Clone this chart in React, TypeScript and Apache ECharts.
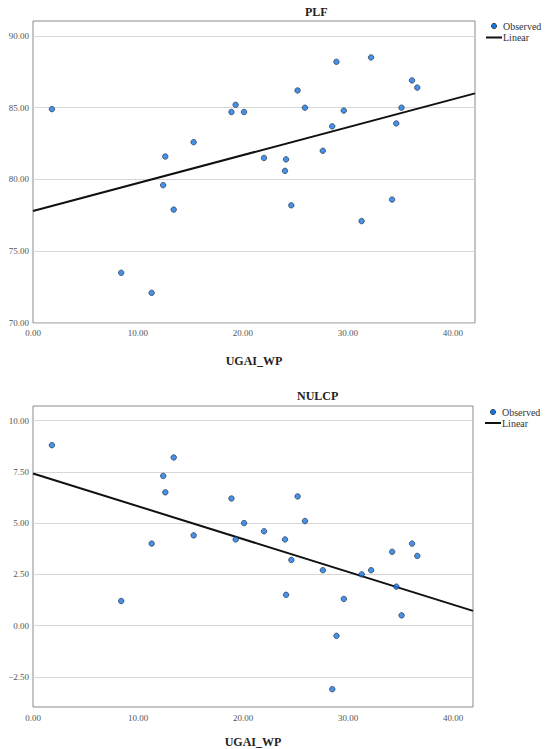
import React, { useEffect, useRef } from "react";
import * as echarts from "echarts";

// Predictor values (shared by both panels)
const ugaiWp = [1.8, 8.4, 11.3, 12.4, 12.6, 13.4, 15.3, 18.9, 19.3, 20.1, 22.0, 24.0, 24.1, 24.6, 25.2, 25.9, 27.6, 28.5, 28.9, 29.6, 31.3, 32.2, 34.2, 34.6, 35.1, 36.1, 36.6];
// Observed responses
const plf = [84.9, 73.5, 72.1, 79.6, 81.6, 77.9, 82.6, 84.7, 85.2, 84.7, 81.5, 80.6, 81.4, 78.2, 86.2, 85.0, 82.0, 83.7, 88.2, 84.8, 77.1, 88.5, 78.6, 83.9, 85.0, 86.9, 86.4];
const nulcp = [8.8, 1.2, 4.0, 7.3, 6.5, 8.2, 4.4, 6.2, 4.2, 5.0, 4.6, 4.2, 1.5, 3.2, 6.3, 5.1, 2.7, -3.1, -0.5, 1.3, 2.5, 2.7, 3.6, 1.9, 0.5, 4.0, 3.4];
// Linear fit end points [x, y]
const plfFitX = [0, 42.1];
const plfFitY = [77.8, 86.0];
const nulcpFitX = [0, 41.9];
const nulcpFitY = [7.42, 0.72];
// Tick labels
const xTicks = [0, 10, 20, 30, 40];
const plfTicks = [70, 75, 80, 85, 90];
const nulcpTicks = [-2.5, 0, 2.5, 5, 7.5, 10];
const titles = ["PLF", "NULCP"];
const xName = "UGAI_WP";
const legendNames = ["Observed", "Linear"];

const SERIF = "Liberation Serif";

const fmt = (v: number) => v.toFixed(2).replace("-", "\u2212");

function xAxis(gridIndex: number, max: number, nameGap: number, margin: number) {
  return {
    type: "value",
    gridIndex,
    min: 0,
    max,
    name: xName,
    nameLocation: "middle",
    nameGap,
    nameTextStyle: { fontFamily: SERIF, fontSize: 12, fontWeight: "bold", color: "#222" },
    axisLine: { show: false },
    axisTick: { show: false, customValues: xTicks },
    axisLabel: { customValues: xTicks, formatter: fmt, fontFamily: SERIF, fontSize: 9, color: "#555", margin },
    splitLine: { show: false },
  };
}

function yAxis(gridIndex: number, min: number, max: number, ticks: number[]) {
  return {
    type: "value",
    gridIndex,
    min,
    max,
    axisLine: { show: false },
    axisTick: { show: false, customValues: ticks },
    axisLabel: { customValues: ticks, formatter: fmt, fontFamily: SERIF, fontSize: 9, color: "#555", margin: 4 },
    splitLine: { show: true, lineStyle: { color: "#d6d6d6", width: 1.2 } },
  };
}

function legendGraphics(cx: number, yObs: number, yLin: number) {
  return [
    { type: "circle", shape: { cx, cy: yObs, r: 2.6 }, style: { fill: "#1976e0", stroke: "#1a2a40", lineWidth: 0.8 } },
    { type: "text", x: cx + 9, y: yObs, style: { text: legendNames[0], fontFamily: SERIF, fontSize: 10, fill: "#333", verticalAlign: "middle" } },
    { type: "line", shape: { x1: cx - 8, y1: yLin, x2: cx + 8, y2: yLin }, style: { stroke: "#111", lineWidth: 2 } },
    { type: "text", x: cx + 9, y: yLin, style: { text: legendNames[1], fontFamily: SERIF, fontSize: 10, fill: "#333", verticalAlign: "middle" } },
  ];
}

export default function App() {
  const ref = useRef<HTMLDivElement>(null);
  useEffect(() => {
    document.body.style.margin = "0";
    if (!ref.current) return;
    const chart = echarts.init(ref.current, null, { renderer: "svg" });
    const scatterStyle = { color: "#1976e0", borderColor: "#1a2a40", borderWidth: 0.8 };
    chart.setOption({
      animation: false,
      backgroundColor: "#fff",
      title: [
        { text: titles[0], left: 305, top: 6, padding: 0, textStyle: { fontFamily: SERIF, fontSize: 12, fontWeight: "bold", color: "#222" } },
        { text: titles[1], left: 297, top: 390, padding: 0, textStyle: { fontFamily: SERIF, fontSize: 12, fontWeight: "bold", color: "#222" } },
      ],
      grid: [
        { left: 33, top: 21, width: 442, height: 302, show: true, borderColor: "#8a8a8a", borderWidth: 1, backgroundColor: "transparent" },
        { left: 33, top: 406, width: 440, height: 302, show: true, borderColor: "#8a8a8a", borderWidth: 1, backgroundColor: "transparent" },
      ],
      xAxis: [xAxis(0, 42.1, 32, 5), xAxis(1, 41.9, 29, 6)],
      yAxis: [yAxis(0, 70, 91.04, plfTicks), yAxis(1, -3.97, 10.71, nulcpTicks)],
      series: [
        {
          name: legendNames[0], type: "scatter", xAxisIndex: 0, yAxisIndex: 0, symbolSize: 5.5,
          itemStyle: scatterStyle, data: ugaiWp.map((x, i) => [x, plf[i]]), z: 3,
        },
        {
          name: legendNames[1], type: "line", xAxisIndex: 0, yAxisIndex: 0, showSymbol: false,
          lineStyle: { color: "#111", width: 2 }, data: plfFitX.map((x, i) => [x, plfFitY[i]]), z: 2,
        },
        {
          name: legendNames[0], type: "scatter", xAxisIndex: 1, yAxisIndex: 1, symbolSize: 5.5,
          itemStyle: scatterStyle, data: ugaiWp.map((x, i) => [x, nulcp[i]]), z: 3,
        },
        {
          name: legendNames[1], type: "line", xAxisIndex: 1, yAxisIndex: 1, showSymbol: false,
          lineStyle: { color: "#111", width: 2 }, data: nulcpFitX.map((x, i) => [x, nulcpFitY[i]]), z: 2,
        },
      ],
      graphic: [...legendGraphics(494, 26, 37.5), ...legendGraphics(493, 412, 423)],
    });
    return () => chart.dispose();
  }, []);
  return <div ref={ref} style={{ width: 550, height: 749 }} />;
}
